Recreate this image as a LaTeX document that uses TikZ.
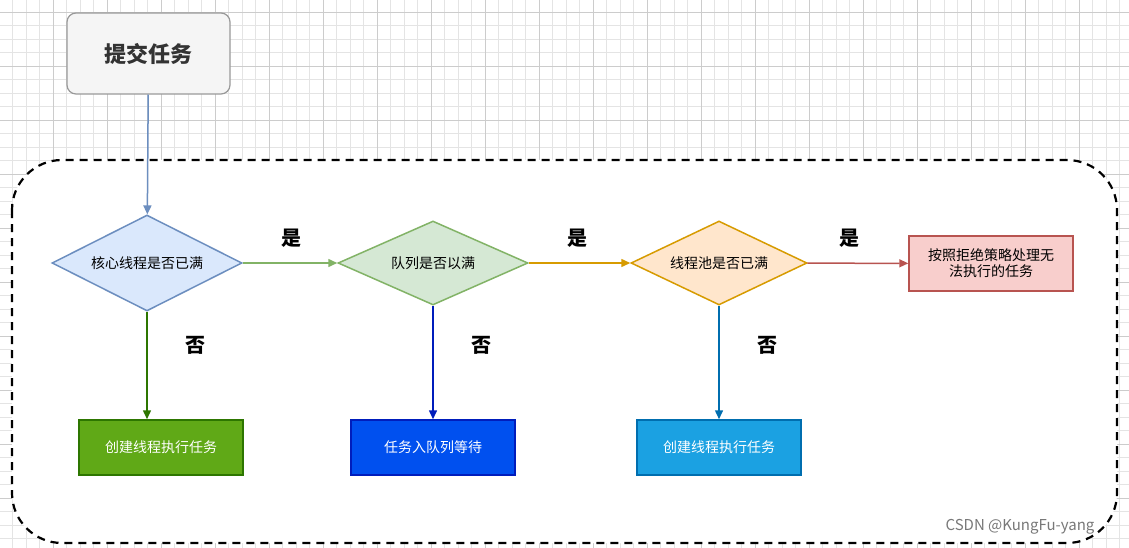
\documentclass[tikz,border=0pt]{standalone}
\usepackage{fontspec}
\setmainfont{Noto Sans CJK SC}
\usetikzlibrary{shapes.geometric,arrows.meta}
\definecolor{gridc}{HTML}{E4E4E4}
\definecolor{gridm}{HTML}{CCCCCC}
\definecolor{bF}{HTML}{DAE8FC}\definecolor{bS}{HTML}{6C8EBF}
\definecolor{gF}{HTML}{D5E8D4}\definecolor{gS}{HTML}{82B366}
\definecolor{oF}{HTML}{FFE6CC}\definecolor{oS}{HTML}{D79B00}
\definecolor{rF}{HTML}{F8CECC}\definecolor{rS}{HTML}{B85450}
\definecolor{g2F}{HTML}{60A917}\definecolor{g2S}{HTML}{2D7600}
\definecolor{b2F}{HTML}{0050EF}\definecolor{b2S}{HTML}{001DBC}
\definecolor{c2F}{HTML}{1BA1E2}\definecolor{c2S}{HTML}{006EAF}
\definecolor{sF}{HTML}{F5F5F5}\definecolor{sT}{HTML}{333333}
\definecolor{wm}{HTML}{787878}
\tikzset{
 dia/.style={diamond,aspect=2,draw,line width=1.5pt,inner sep=0pt,font=\fontsize{14}{16}\selectfont},
 box/.style={rectangle,draw,line width=1.5pt,minimum width=164pt,minimum height=55pt,font=\fontsize{14}{16}\selectfont,align=center},
 arr/.style={line width=1.5pt,-{Triangle[length=9pt,width=8pt]}},
 lab/.style={font=\fontsize{20}{22}\selectfont\bfseries}
}
\begin{document}
\begin{tikzpicture}[x=1pt,y=-1pt]
\useasboundingbox (0,0) rectangle (1129,548);
\fill[white] (0,0) rectangle (1129,548);
\foreach \i in {0,...,84}{\draw[gridc,line width=0.6pt] (-1+\i*13.5,0)--(-1+\i*13.5,548);}
\foreach \i in {0,...,41}{\draw[gridc,line width=0.6pt] (0,-1.5+\i*13.5)--(1129,-1.5+\i*13.5);}
\foreach \i in {0,...,21}{\draw[gridm,line width=0.6pt] (-1+\i*54,0)--(-1+\i*54,548);}
\foreach \i in {0,...,10}{\draw[gridm,line width=0.6pt] (0,12+\i*54)--(1129,12+\i*54);}
\draw[fill=white,line width=2.2pt,dash pattern=on 8pt off 6pt,rounded corners=50pt] (12,160) rectangle (1117,543);
\node[rectangle,rounded corners=9pt,draw=gray!80,fill=sF,line width=1.2pt,minimum width=163pt,minimum height=81pt,font=\fontsize{22}{24}\selectfont\bfseries,text=sT] (s) at (148.5,53.5) {提交任务};
\node[dia,fill=bF,draw=bS,minimum width=190pt,minimum height=96pt] (d1) at (147,263) {核心线程是否已满};
\node[dia,fill=gF,draw=gS,minimum width=190pt,minimum height=84pt] (d2) at (433,263) {队列是否以满};
\node[dia,fill=oF,draw=oS,minimum width=176pt,minimum height=84pt] (d3) at (719,263) {线程池是否已满};
\node[box,fill=rF,draw=rS] (r) at (991,263.5) {按照拒绝策略处理无\\法执行的任务};
\node[box,fill=g2F,draw=g2S,text=white] (b1) at (161,447.5) {创建线程执行任务};
\node[box,fill=b2F,draw=b2S,text=white] (b2) at (433,447.5) {任务入队列等待};
\node[box,fill=c2F,draw=c2S,text=white] (b3) at (719,447.5) {创建线程执行任务};
\draw[arr,bS] (s) -- (d1);
\draw[arr,gS] (d1) -- (d2);
\draw[arr,oS] (d2) -- (d3);
\draw[arr,rS] (d3) -- (r);
\draw[arr,g2S] (d1.south) -- (d1.south|-b1.north);
\draw[arr,b2S] (d2) -- (b2);
\draw[arr,c2S] (d3) -- (b3);
\node[lab] (y1) at (291,238) {是};
\node[lab] (y2) at (577,238) {是};
\node[lab] (y3) at (849,238) {是};
\node[lab] (n1) at (195,345) {否};
\node[lab] (n2) at (481,345) {否};
\node[lab] (n3) at (767,345) {否};
\node[font=\fontsize{15}{17}\selectfont,text=wm] (w) at (1020,527) {CSDN @KungFu-yang};
\end{tikzpicture}
\end{document}
